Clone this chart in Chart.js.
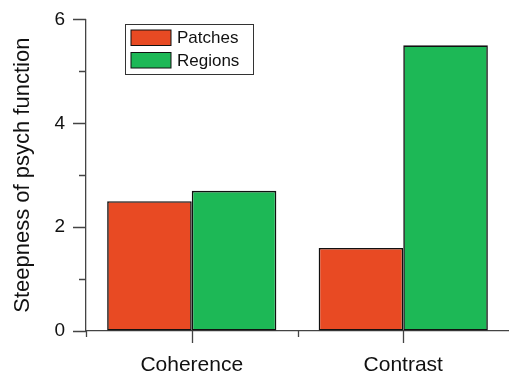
<!DOCTYPE html>
<html>
<head>
<meta charset="utf-8">
<script src="https://cdn.jsdelivr.net/npm/chart.js@4"></script>
<style>
  html, body { margin: 0; padding: 0; background: #fff; }
  #wrap { width: 509px; height: 372px; }
</style>
</head>
<body>
<div id="wrap"><canvas id="chart"></canvas></div>
<script>
var categories = ["Coherence", "Contrast"];
var patches = [2.5, 1.6];
var regions = [2.7, 5.5];
var yTicks = [0, 2, 4, 6];
var seriesNames = ["Patches", "Regions"];

var red = "#e84a23";
var green = "#1db856";
var axisColor = "#444444";
var font = "'Liberation Sans', Arial, sans-serif";

// minor + major ticks, drawn from the scales themselves
var tickPlugin = {
    id: "ticks",
    afterDraw: function (chart) {
        var ctx = chart.ctx;
        var y = chart.scales.y, x = chart.scales.x;
        ctx.save();
        ctx.strokeStyle = axisColor;
        ctx.lineWidth = 1.3;
        ctx.beginPath();
        for (var v = y.min; v <= y.max; v++) {
            var py = Math.round(y.getPixelForValue(v)) + 0.5;
            var len = yTicks.indexOf(v) >= 0 ? 13 : 7;
            ctx.moveTo(y.right - len, py);
            ctx.lineTo(y.right, py);
        }
        for (var i = 0; i < categories.length; i++) {
            var cx = Math.round(x.getPixelForValue(i)) + 0.5;
            ctx.moveTo(cx, x.top);
            ctx.lineTo(cx, x.top + 12);
            var bx = Math.round(x.getPixelForValue(i - 0.5)) + 0.5;
            ctx.moveTo(bx, x.top);
            ctx.lineTo(bx, x.top + 6);
        }
        ctx.stroke();
        ctx.restore();
    }
};

// boxed legend in the upper left of the plot
var legendPlugin = {
    id: "boxLegend",
    afterDraw: function (chart) {
        var ctx = chart.ctx;
        ctx.save();
        ctx.fillStyle = "#fff";
        ctx.fillRect(125.5, 24.5, 128, 50);
        ctx.strokeStyle = "#333";
        ctx.lineWidth = 1;
        ctx.strokeRect(125.5, 24.5, 128, 50);
        ctx.font = "17px " + font;
        ctx.textBaseline = "middle";
        chart.data.datasets.forEach(function (ds, i) {
            var top = 30 + i * 22.5;
            ctx.fillStyle = ds.backgroundColor;
            ctx.fillRect(131, top, 40, 15.5);
            ctx.strokeStyle = "#111";
            ctx.strokeRect(131, top, 40, 15.5);
            ctx.fillStyle = "#111";
            ctx.fillText(ds.label, 177, top + 8.5);
        });
        ctx.restore();
    }
};

new Chart(document.getElementById("chart"), {
    type: "bar",
    data: {
        labels: categories,
        datasets: [{
            label: seriesNames[0],
            data: patches,
            backgroundColor: red,
            borderColor: "#111",
            borderWidth: 1.6,
            borderSkipped: false
        }, {
            label: seriesNames[1],
            data: regions,
            backgroundColor: green,
            borderColor: "#111",
            borderWidth: 1.6,
            borderSkipped: false
        }]
    },
    options: {
        responsive: true,
        maintainAspectRatio: false,
        animation: false,
        layout: { padding: { top: 19, right: 0, left: 0, bottom: 0 } },
        plugins: {
            legend: { display: false },
            tooltip: { enabled: false }
        },
        datasets: {
            bar: { categoryPercentage: 0.8, barPercentage: 1.0 }
        },
        scales: {
            x: {
                offset: true,
                grid: { display: true, drawOnChartArea: false, tickLength: 12, tickColor: "rgba(0,0,0,0)" },
                border: { color: axisColor, width: 1.3 },
                ticks: { color: "#111", padding: 10, font: { family: font, size: 21 } },
                afterFit: function (s) { s.height = 41; }
            },
            y: {
                min: 0,
                max: 6,
                grid: { display: true, drawOnChartArea: false, tickLength: 13, tickColor: "rgba(0,0,0,0)" },
                border: { color: axisColor, width: 1.3 },
                ticks: {
                    stepSize: 1,
                    color: "#111",
                    padding: 8,
                    font: { family: font, size: 19 },
                    callback: function (v) { return yTicks.indexOf(v) >= 0 ? v : ""; }
                },
                title: {
                    display: true,
                    text: "Steepness of psych function",
                    color: "#111",
                    font: { family: font, size: 22 },
                    padding: { top: 10, bottom: 0 }
                },
                afterFit: function (s) { s.width = 86; }
            }
        }
    },
    plugins: [tickPlugin, legendPlugin]
});
</script>
</body>
</html>
